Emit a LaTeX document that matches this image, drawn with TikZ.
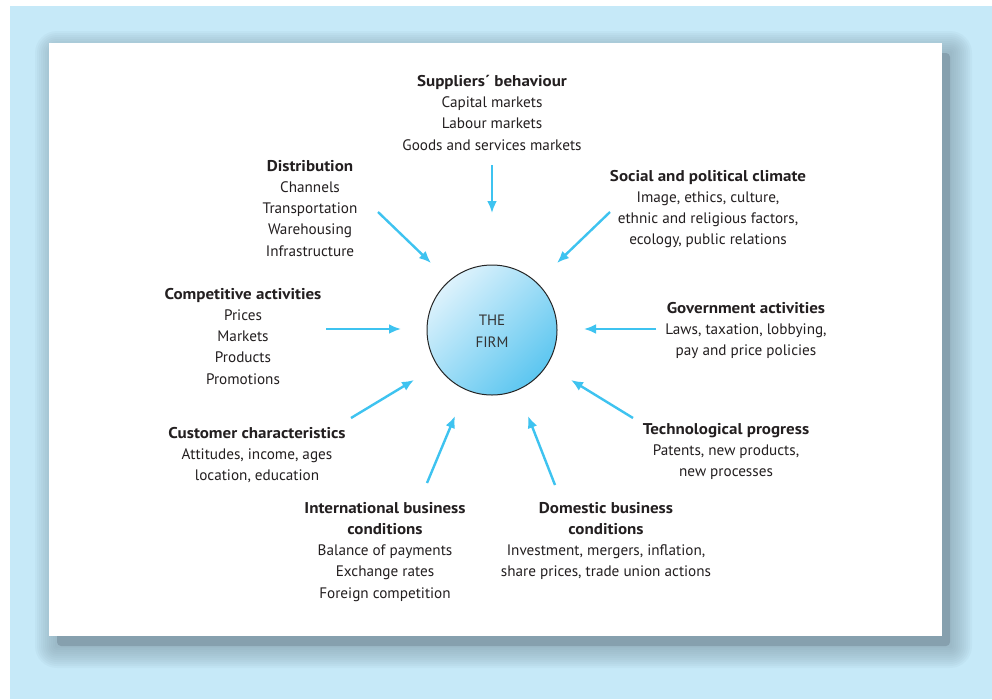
\documentclass[tikz,border=0pt]{standalone}
\usepackage{fontspec}
\setmainfont{PT Sans}
\newfontface\headfont{PT Sans Bold}[FakeStretch=1.09]
\usetikzlibrary{arrows.meta}
\definecolor{bgblue}{HTML}{C6E9F8}
\definecolor{arrowblue}{HTML}{3EC3F0}
\definecolor{txt}{HTML}{231F20}
\definecolor{shadowc}{HTML}{86A0AE}
\definecolor{firmlight}{HTML}{DDF2FC}
\definecolor{firmdark}{HTML}{5CC6F0}
\newcommand{\hd}[1]{{\headfont\fontsize{15.6}{21.2}\selectfont #1}}
\begin{document}
\begin{tikzpicture}[x=1pt,y=-1pt,
  lab/.style={align=center, font=\fontsize{15.2}{21.2}\selectfont, text=txt, inner sep=0pt, anchor=north},
  arr/.style={draw=arrowblue, line width=2.4pt, -{Latex[length=12pt,width=10pt]}}]
\useasboundingbox (0,0) rectangle (992,699);
\fill[bgblue] (10,6) rectangle (992,699);
% shadow of the panel
\foreach \s in {2,4,...,22}{
  \fill[shadowc, opacity=0.08, rounded corners=\s pt] (57-\s,53-\s) rectangle (950+\s,646+\s);
}
\fill[shadowc, rounded corners=4pt] (57,53) rectangle (950,646);
\fill[white] (49,43) rectangle (942,636);
% the firm
\node[circle, draw=black!85, line width=1pt, minimum size=130pt, inner sep=0pt,
      top color=firmlight, bottom color=firmdark, shading angle=45] (firm) at (492,330) {};
\node[align=center, font=\fontsize{15}{21.5}\selectfont, text=black!80, inner sep=0pt] (firmtext) at (492,331) {THE\\FIRM};
% labels
\node[lab] (sup) at (492,75) {\hd{Suppliers´ behaviour}\\Capital markets\\Labour markets\\Goods and services markets};
\node[lab] (dis) at (310,160) {\hd{Distribution}\\Channels\\Transportation\\Warehousing\\Infrastructure};
\node[lab] (soc) at (708,170) {\hd{Social and political climate}\\Image, ethics, culture,\\ethnic and religious factors,\\ecology, public relations};
\node[lab] (com) at (243,288) {\hd{Competitive activities}\\Prices\\Markets\\Products\\Promotions};
\node[lab] (gov) at (746,302) {\hd{Government activities}\\Laws, taxation, lobbying,\\pay and price policies};
\node[lab] (cus) at (257,427) {\hd{Customer characteristics}\\Attitudes, income, ages\\location, education};
\node[lab] (tec) at (726,423) {\hd{Technological progress}\\Patents, new products,\\new processes};
\node[lab] (int) at (385,502) {\hd{International business}\\\hd{conditions}\\Balance of payments\\Exchange rates\\Foreign competition};
\node[lab] (dom) at (606,502) {\hd{Domestic business}\\\hd{conditions}\\Investment, mergers, inflation,\\share prices, trade union actions};
% arrow end points
\coordinate (supA) at (492,165); \coordinate (supB) at (492,213);
\coordinate (disA) at (378,212); \coordinate (disB) at (431,263);
\coordinate (socA) at (610,212); \coordinate (socB) at (557,263);
\coordinate (comA) at (326,329); \coordinate (comB) at (401,329);
\coordinate (govA) at (656,329); \coordinate (govB) at (584,329);
\coordinate (cusA) at (351,418); \coordinate (cusB) at (414,380);
\coordinate (tecA) at (633,418); \coordinate (tecB) at (571,380);
\coordinate (intA) at (427,483); \coordinate (intB) at (455,416);
\coordinate (domA) at (555,485); \coordinate (domB) at (528,416);
\foreach \n in {sup,dis,soc,com,gov,cus,tec,int,dom}{
  \draw[arr] (\n A) -- (\n B);
}
\end{tikzpicture}
\end{document}
